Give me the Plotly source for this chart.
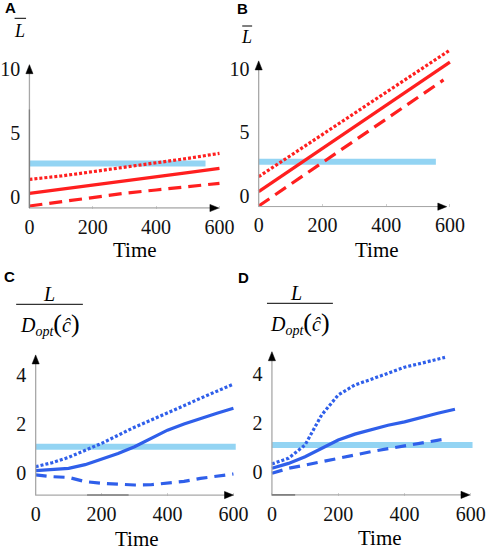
import plotly.graph_objects as go

W, H = 490, 551

# ---------------- data ----------------
x_ticks = [0, 200, 400, 600]
x_tick_labels = ["0", "200", "400", "600"]
yA_ticks = [0, 5, 10]
yA_tick_labels = ["0", "5", "10"]
yC_ticks = [0, 2, 4]
yC_tick_labels = ["0", "2", "4"]

# Panel A
tA = [0, 100, 200, 300, 400, 500, 600]
A_solid = [0.25, 0.56, 0.90, 1.24, 1.55, 1.86, 2.20]
A_dot = [1.34, 1.60, 1.94, 2.28, 2.64, 2.98, 3.37]
A_dash = [-0.74, -0.40, -0.06, 0.25, 0.51, 0.77, 1.03]
A_thr_x = [0, 556]
A_thr = 2.58

# Panel B
tB = [0, 100, 200, 300, 400, 500, 600]
B_solid = [0.30, 2.00, 3.75, 5.45, 7.15, 8.85, 10.50]
B_dot = [1.48, 3.15, 4.80, 6.45, 8.10, 9.78, 11.45]
tB_dash = [0, 100, 200, 300, 400, 500, 580]
B_dash = [-0.83, 0.88, 2.60, 4.30, 6.00, 7.70, 9.10]
B_thr_x = [0, 556]
B_thr = 2.66

# Panel C
tC = [0, 50, 100, 150, 200, 250, 300, 350, 400, 450, 500, 550, 600]
C_solid = [0.10, 0.13, 0.19, 0.34, 0.56, 0.80, 1.07, 1.40, 1.75, 2.00, 2.23, 2.44, 2.64]
C_dot = [0.26, 0.42, 0.64, 0.92, 1.21, 1.54, 1.87, 2.16, 2.44, 2.75, 3.05, 3.34, 3.63]
C_dash = [-0.08, -0.15, -0.18, -0.35, -0.42, -0.47, -0.49, -0.48, -0.42, -0.34, -0.22, -0.12, -0.04]
C_thr_x = [0, 607]
C_thr = 1.07

# Panel D
tD_solid = [0, 50, 100, 150, 200, 250, 300, 350, 400, 450, 500, 552]
D_solid = [0.15, 0.35, 0.62, 0.96, 1.30, 1.54, 1.73, 1.90, 2.04, 2.22, 2.39, 2.55]
tD_dot = [0, 50, 100, 125, 150, 200, 250, 300, 350, 400, 450, 522]
D_dot = [0.33, 0.56, 1.10, 1.71, 2.32, 3.13, 3.54, 3.77, 4.01, 4.26, 4.42, 4.66]
tD_dash = [0, 50, 100, 200, 300, 400, 500, 526]
D_dash = [-0.05, 0.15, 0.28, 0.56, 0.83, 1.06, 1.28, 1.35]
D_thr_x = [0, 605]
D_thr = 1.10

RED = "#ff1f1f"
BLUE = "#2f5fea"
THR = "#93d4f3"
AXC = "#a8a8a8"
AXD = "#808080"

# ---------------- layout geometry (pixel mapping per panel) ----------------
panels = {
    "A": dict(X0=26.7, sx=0.320, xr=[-10, 640], Y0=196.5, sy=12.8, yr=[-0.95, 11.0],
              ax_y=-0.90, arr_x=598, arr_top=10.3),
    "B": dict(X0=258.3, sx=0.322, xr=[-10, 640], Y0=195.5, sy=12.7, yr=[-0.93, 12.0],
              ax_y=-0.88, arr_x=590, arr_top=10.6),
    "C": dict(X0=33.0, sx=0.333, xr=[-10, 640], Y0=473.0, sy=24.5, yr=[-0.95, 5.2],
              ax_y=-0.90, arr_x=600, arr_top=4.82),
    "D": dict(X0=271.7, sx=0.335, xr=[-10, 640], Y0=472.0, sy=24.6, yr=[-0.98, 5.2],
              ax_y=-0.93, arr_x=597, arr_top=4.89),
}


def domains(p):
    xd = [(p["X0"] + p["sx"] * p["xr"][0]) / W, (p["X0"] + p["sx"] * p["xr"][1]) / W]
    yd = [1 - (p["Y0"] - p["sy"] * p["yr"][0]) / H, 1 - (p["Y0"] - p["sy"] * p["yr"][1]) / H]
    return xd, yd


fig = go.Figure()


def add_line(ax_i, x, y, color, dash, width=3.2):
    sfx = "" if ax_i == 1 else str(ax_i)
    fig.add_trace(go.Scatter(x=x, y=y, mode="lines", xaxis="x" + sfx, yaxis="y" + sfx,
                             line=dict(color=color, width=width, dash=dash),
                             showlegend=False, hoverinfo="skip"))


def add_thr(ax_i, xs, v):
    sfx = "" if ax_i == 1 else str(ax_i)
    fig.add_trace(go.Scatter(x=xs, y=[v, v], mode="lines", xaxis="x" + sfx, yaxis="y" + sfx,
                             line=dict(color=THR, width=6), showlegend=False, hoverinfo="skip"))


DASH_R = "13px,7px"
DASH_B = "11px,7px"
DOT = "3px,2px"

add_thr(1, A_thr_x, A_thr)
add_line(1, tA, A_solid, RED, "solid")
add_line(1, tA, A_dot, RED, DOT)
add_line(1, tA, A_dash, RED, DASH_R)

add_thr(2, B_thr_x, B_thr)
add_line(2, tB, B_solid, RED, "solid")
add_line(2, tB, B_dot, RED, DOT)
add_line(2, tB_dash, B_dash, RED, DASH_R)

add_thr(3, C_thr_x, C_thr)
add_line(3, tC, C_solid, BLUE, "solid")
add_line(3, tC, C_dot, BLUE, DOT)
add_line(3, tC, C_dash, BLUE, DASH_B)

add_thr(4, D_thr_x, D_thr)
add_line(4, tD_solid, D_solid, BLUE, "solid")
add_line(4, tD_dot, D_dot, BLUE, DOT)
add_line(4, tD_dash, D_dash, BLUE, DASH_B)

SERIF = "Liberation Serif"
SANS = "Liberation Sans"
TICKFONT = dict(family=SERIF, size=20, color="#111")

layout = dict(width=W, height=H, margin=dict(l=0, r=0, t=0, b=0),
              paper_bgcolor="white", plot_bgcolor="white", showlegend=False)
shapes = []
annotations = []


def ppx(x):
    return x / W


def ppy(y):
    return 1 - y / H


def tri(tip_x, tip_y, direction):
    # small filled arrowhead in page pixels, converted to paper coordinates
    L, hw = 9.0, 3.6
    if direction == "right":
        pts = [(tip_x, tip_y), (tip_x - L, tip_y - hw), (tip_x - L, tip_y + hw)]
    else:
        pts = [(tip_x, tip_y), (tip_x - hw, tip_y + L), (tip_x + hw, tip_y + L)]
    path = "M{:.5f},{:.5f} L{:.5f},{:.5f} L{:.5f},{:.5f} Z".format(
        ppx(pts[0][0]), ppy(pts[0][1]), ppx(pts[1][0]), ppy(pts[1][1]),
        ppx(pts[2][0]), ppy(pts[2][1]))
    return dict(type="path", xref="paper", yref="paper", path=path,
                fillcolor="#000", line=dict(color="#000", width=0.5))


for i, key in enumerate(["A", "B", "C", "D"], start=1):
    p = panels[key]
    xd, yd = domains(p)
    sfx = "" if i == 1 else str(i)
    yt, ytl = (yA_ticks, yA_tick_labels) if key in "AB" else (yC_ticks, yC_tick_labels)
    layout["xaxis" + sfx] = dict(domain=xd, range=p["xr"], anchor="y" + sfx,
                                 showgrid=False, zeroline=False, showline=False,
                                 tickvals=x_ticks, ticktext=x_tick_labels, tickfont=TICKFONT,
                                 ticks="inside", ticklen=3, tickcolor="#cfcfcf",
                                 ticklabelstandoff=4, fixedrange=True)
    layout["yaxis" + sfx] = dict(domain=yd, range=p["yr"], anchor="x" + sfx,
                                 showgrid=False, zeroline=False, showline=False,
                                 tickvals=yt, ticktext=ytl, tickfont=TICKFONT,
                                 ticks="", ticklabelstandoff=5, fixedrange=True)
    xr_, yr_ = "x" + sfx, "y" + sfx
    shapes.append(dict(type="line", xref=xr_, yref=yr_, x0=0, x1=p["arr_x"] - 10,
                       y0=p["ax_y"], y1=p["ax_y"], line=dict(color=AXC, width=1.3)))
    shapes.append(dict(type="line", xref=xr_, yref=yr_, x0=0, x1=0,
                       y0=p["ax_y"], y1=p["arr_top"] - 0.3, line=dict(color=AXC, width=1.3)))
    ax_px = p["Y0"] - p["sy"] * p["ax_y"]
    shapes.append(tri(p["X0"] + p["sx"] * p["arr_x"], ax_px, "right"))
    shapes.append(tri(p["X0"], p["Y0"] - p["sy"] * p["arr_top"], "up"))

# darker scanned segments of the axes
shapes.append(dict(type="line", xref="x", yref="y", x0=0, x1=0, y0=-0.9, y1=6.8,
                   line=dict(color=AXD, width=1.3)))
shapes.append(dict(type="line", xref="x3", yref="y3", x0=156, x1=282, y0=-0.9, y1=-0.9,
                   line=dict(color=AXD, width=1.6)))
shapes.append(dict(type="line", xref="x4", yref="y4", x0=0, x1=70, y0=-0.93, y1=-0.93,
                   line=dict(color=AXD, width=1.6)))


def px_ann(text, x, y, size, family, color="#000", xanchor="center", yanchor="middle"):
    annotations.append(dict(text=text, x=x / W, y=1 - y / H, xref="paper", yref="paper",
                            showarrow=False, xanchor=xanchor, yanchor=yanchor,
                            font=dict(size=size, family=family, color=color)))


# panel letters
px_ann("<b>A</b>", 7.5, 8, 15, SANS)
px_ann("<b>B</b>", 241.7, 8.5, 15, SANS)
px_ann("<b>C</b>", 6.5, 276, 15, SANS)
px_ann("<b>D</b>", 243, 277, 15, SANS)

# L-bar labels
px_ann("<i>L</i>", 17, 31, 18, SERIF)
shapes.append(dict(type="line", xref="paper", yref="paper", x0=11.7 / W, x1=23.3 / W,
                   y0=1 - 18.3 / H, y1=1 - 18.3 / H, line=dict(color="#000", width=1)))
px_ann("<i>L</i>", 246.5, 37.5, 18, SERIF)
shapes.append(dict(type="line", xref="paper", yref="paper", x0=241.7 / W, x1=251.7 / W,
                   y0=1 - 26 / H, y1=1 - 26 / H, line=dict(color="#000", width=1)))

# fraction labels
FRAC_DEN = ("<i>D</i><sub><i>opt</i></sub><span style='font-size:26px'>(</span>"
            "<i>ĉ</i><span style='font-size:26px'>)</span>")
for (lx, ly, x0, x1, yl, dy) in [(46, 294, 13.3, 80.7, 304.3, 324),
                                  (296, 293, 266.7, 333.3, 303.3, 323)]:
    px_ann("<i>L</i>", lx, ly, 20, SERIF)
    shapes.append(dict(type="line", xref="paper", yref="paper", x0=x0 / W, x1=x1 / W,
                       y0=1 - yl / H, y1=1 - yl / H, line=dict(color="#000", width=1)))
    px_ann(FRAC_DEN, (x0 + x1) / 2, dy, 20, SERIF)

# x titles
px_ann("Time", 133, 250, 21, SERIF)
px_ann("Time", 377.5, 250, 21, SERIF)
px_ann("Time", 135, 539, 21, SERIF)
px_ann("Time", 381, 538, 21, SERIF)

layout["shapes"] = shapes
layout["annotations"] = annotations
fig.update_layout(**layout)
fig.write_html("out.html", config={"displayModeBar": False},
               post_script="document.body.style.margin='0px';document.body.style.overflow='hidden';")
